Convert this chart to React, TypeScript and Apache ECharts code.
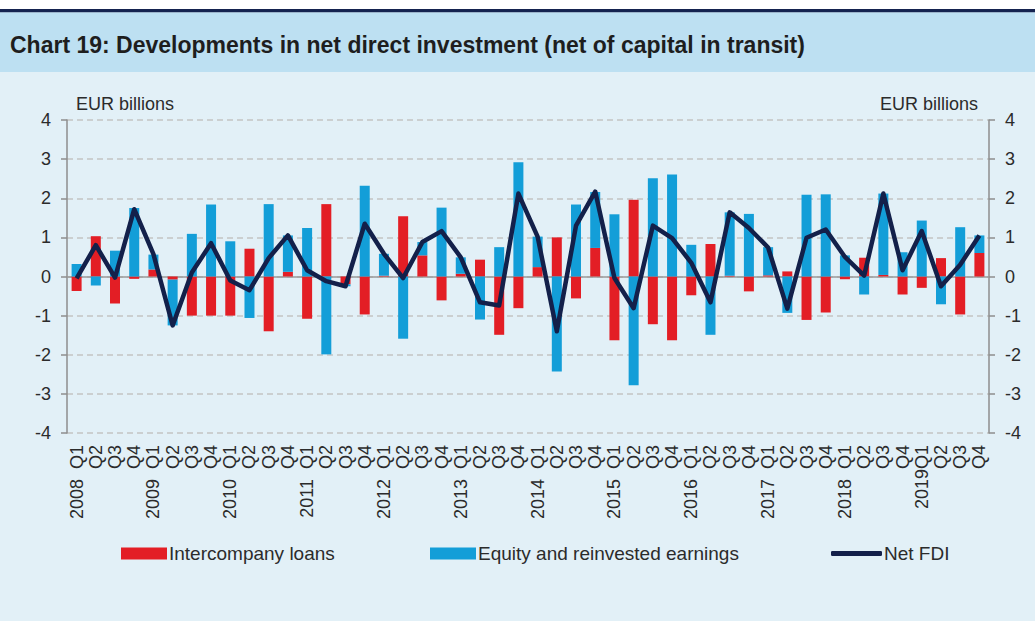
import React, { useEffect, useRef } from "react";
import * as echarts from "echarts";

const categories = [
  "2008  Q1", "Q2", "Q3", "Q4",
  "2009  Q1", "Q2", "Q3", "Q4",
  "2010  Q1", "Q2", "Q3", "Q4",
  "2011  Q1", "Q2", "Q3", "Q4",
  "2012  Q1", "Q2", "Q3", "Q4",
  "2013  Q1", "Q2", "Q3", "Q4",
  "2014  Q1", "Q2", "Q3", "Q4",
  "2015  Q1", "Q2", "Q3", "Q4",
  "2016  Q1", "Q2", "Q3", "Q4",
  "2017  Q1", "Q2", "Q3", "Q4",
  "2018  Q1", "Q2", "Q3", "Q4",
  "2019Q1", "Q2", "Q3", "Q4",
];

const intercompanyLoans = [
  -0.37, 1.03, -0.69, -0.06,
  0.18, -0.08, -1.0, -1.0,
  -1.0, 0.71, -1.4, 0.12,
  -1.08, 1.85, -0.2, -0.97,
  0.02, 1.54, 0.54, -0.61,
  0.07, 0.43, -1.49, -0.81,
  0.24, 1.0, -0.56, 0.73,
  -1.63, 1.96, -1.22, -1.63,
  -0.48, 0.83, 0.02, -0.38,
  0.03, 0.13, -1.11, -0.92,
  -0.07, 0.48, 0.04, -0.46,
  -0.29, 0.47, -0.97, 0.6,
];

const equityEarnings = [
  0.32, -0.23, 0.66, 1.75,
  0.38, -1.17, 1.09, 1.84,
  0.9, -1.06, 1.85, 0.93,
  1.24, -1.99, -0.05, 2.32,
  0.56, -1.59, 0.34, 1.76,
  0.42, -1.1, 0.75, 2.92,
  0.78, -2.43, 1.84, 1.43,
  1.59, -2.78, 2.51, 2.61,
  0.81, -1.49, 1.62, 1.6,
  0.72, -0.93, 2.09, 2.1,
  0.54, -0.46, 2.08, 0.62,
  1.43, -0.71, 1.26, 0.45,
];

const netFDI = [
  -0.05, 0.8, -0.03, 1.72,
  0.57, -1.25, 0.1, 0.85,
  -0.1, -0.35, 0.47, 1.05,
  0.16, -0.12, -0.25, 1.35,
  0.58, -0.04, 0.88, 1.16,
  0.49, -0.66, -0.74, 2.12,
  1.02, -1.4, 1.3, 2.17,
  -0.04, -0.81, 1.3, 0.98,
  0.35, -0.66, 1.64, 1.24,
  0.74, -0.82, 0.99, 1.2,
  0.5, 0.02, 2.12, 0.16,
  1.16, -0.25, 0.3, 1.05,
];

const FONT = "'Liberation Sans', Arial, sans-serif";
const TEXT = "#2b2b2b";
const RED = "#e31e25";
const BLUE = "#139ed8";
const NAVY = "#13204a";

export default function App() {
  const ref = useRef<HTMLDivElement>(null);

  useEffect(() => {
    document.body.style.margin = "0";
    const chart = echarts.init(ref.current!, null, { renderer: "svg" });
    const yAxisCommon = {
      type: "value",
      min: -4,
      max: 4,
      interval: 1,
      axisLine: { show: true, lineStyle: { color: "#8e8e8e", width: 1.5 } },
      axisTick: { show: true, length: 6, lineStyle: { color: "#8e8e8e", width: 1.5 } },
      axisLabel: { color: TEXT, fontSize: 18, fontFamily: FONT, margin: 16 },
    };
    const legendText = { color: TEXT, fontSize: 19, fontFamily: FONT, padding: [0, 0, 0, -3] };
    chart.setOption({
      animation: false,
      backgroundColor: "#e2f0f7",
      textStyle: { fontFamily: FONT },
      graphic: [
        { type: "rect", left: 0, top: 0, shape: { width: 1035, height: 9 }, style: { fill: "#ffffff" } },
        { type: "rect", left: 0, top: 9, shape: { width: 1035, height: 3.5 }, style: { fill: "#152350" } },
        { type: "rect", left: 0, top: 12.5, shape: { width: 1035, height: 59.5 }, style: { fill: "#bde0f2" } },
        {
          type: "text",
          left: 10,
          top: 33,
          style: {
            text: "Chart 19: Developments in net direct investment (net of capital in transit)",
            fill: "#1e1e1e",
            font: "bold 23px " + FONT,
          },
        },
        {
          type: "text",
          left: 76,
          top: 95,
          style: { text: "EUR billions", fill: TEXT, font: "18px " + FONT },
        },
        {
          type: "text",
          right: 57,
          top: 95,
          style: { text: "EUR billions", fill: TEXT, font: "18px " + FONT },
        },
      ],
      grid: { left: 67, right: 46, top: 120, bottom: 188 },
      legend: [
        {
          left: 121,
          top: 544,
          padding: 0,
          itemWidth: 46,
          itemHeight: 12,
          icon: "rect",
          data: ["Intercompany loans"],
          textStyle: legendText,
        },
        {
          left: 430,
          top: 544,
          padding: 0,
          itemWidth: 46,
          itemHeight: 12,
          icon: "rect",
          data: ["Equity and reinvested earnings"],
          textStyle: legendText,
        },
        {
          left: 831,
          top: 544,
          padding: 0,
          itemWidth: 51,
          itemHeight: 5,
          icon: "roundRect",
          data: ["Net FDI"],
          textStyle: legendText,
        },
      ],
      xAxis: {
        type: "category",
        data: categories,
        axisLine: { show: false, onZero: false },
        axisTick: { show: false },
        axisLabel: {
          interval: 0,
          rotate: 90,
          color: TEXT,
          fontSize: 18,
          fontFamily: FONT,
          margin: 12,
        },
      },
      yAxis: [
        {
          ...yAxisCommon,
          position: "left",
          splitLine: { show: true, lineStyle: { color: "#c4c4c4", width: 1.5, type: [6, 4] } },
        },
        {
          ...yAxisCommon,
          position: "right",
          splitLine: { show: false },
        },
      ],
      series: [
        {
          name: "Intercompany loans",
          type: "bar",
          stack: "fdi",
          barWidth: 10,
          itemStyle: { color: RED },
          data: intercompanyLoans,
        },
        {
          name: "Equity and reinvested earnings",
          type: "bar",
          stack: "fdi",
          barWidth: 10,
          itemStyle: { color: BLUE },
          data: equityEarnings,
        },
        {
          name: "Net FDI",
          type: "line",
          z: 5,
          symbol: "none",
          lineStyle: { color: NAVY, width: 4.5, join: "round" },
          itemStyle: { color: NAVY },
          data: netFDI,
          markLine: {
            silent: true,
            symbol: "none",
            label: { show: false },
            lineStyle: { color: "#9a9a9a", width: 1.5, type: "solid" },
            data: [{ yAxis: 0 }],
            z: 1,
          },
        },
      ],
    });
    return () => chart.dispose();
  }, []);

  return <div ref={ref} style={{ width: 1035, height: 621 }} />;
}
